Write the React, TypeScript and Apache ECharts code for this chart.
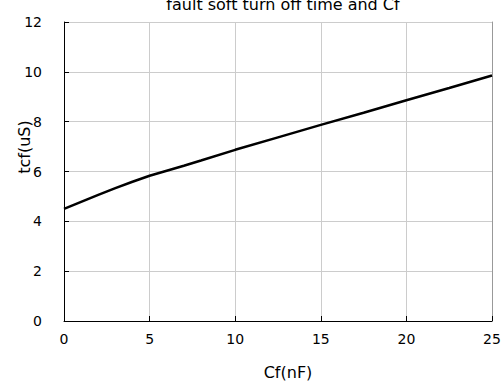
import React, { useEffect, useRef } from "react";
import * as echarts from "echarts";

const cf = [0, 1, 2, 3, 4, 5, 6, 7, 8, 10, 12.5, 15, 17.5, 20, 22.5, 25];
const tcf = [4.5, 4.78, 5.06, 5.33, 5.59, 5.83, 6.03, 6.23, 6.44, 6.87, 7.37, 7.87, 8.36, 8.86, 9.35, 9.85];
const xTicks = [0, 5, 10, 15, 20, 25];
const yTicks = [0, 2, 4, 6, 8, 10, 12];

const FONT = "DejaVu Sans";

export default function App() {
  const ref = useRef<HTMLDivElement>(null);
  useEffect(() => {
    if (!ref.current) return;
    const chart = echarts.init(ref.current, undefined, { renderer: "svg" });
    chart.setOption({
      animation: false,
      backgroundColor: "#ffffff",
      title: {
        text: "fault soft turn off time and Cf",
        left: 278,
        top: -9,
        textAlign: "center",
        textStyle: { fontFamily: FONT, fontSize: 16, fontWeight: "normal", color: "#000" },
      },
      grid: { left: 64, right: 12, top: 22, bottom: 59 },
      xAxis: {
        type: "value",
        min: xTicks[0],
        max: xTicks[xTicks.length - 1],
        interval: 5,
        name: "Cf(nF)",
        nameLocation: "middle",
        nameGap: 43,
        nameTextStyle: { fontFamily: FONT, fontSize: 16, color: "#000", padding: [0, 0, 0, 20] },
        axisLine: { lineStyle: { color: "#000", width: 1 } },
        axisTick: { inside: true, length: 5, lineStyle: { color: "#000" } },
        axisLabel: { fontFamily: FONT, fontSize: 14, color: "#000", margin: 11 },
        splitLine: { show: true, lineStyle: { color: "#cccccc", width: 1 } },
      },
      yAxis: [
        {
          type: "value",
          min: yTicks[0],
          max: yTicks[yTicks.length - 1],
          interval: 2,
          axisLine: { show: true, lineStyle: { color: "#000", width: 1 } },
          axisTick: { show: true, inside: true, length: 5, lineStyle: { color: "#000" } },
          axisLabel: { fontFamily: FONT, fontSize: 14, color: "#000", margin: 22 },
          splitLine: { show: true, lineStyle: { color: "#cccccc", width: 1 } },
        },
        {
          type: "value",
          position: "right",
          min: yTicks[0],
          max: yTicks[yTicks.length - 1],
          interval: 2,
          axisLine: { show: true, lineStyle: { color: "#999999", width: 1 } },
          axisTick: { show: false },
          axisLabel: { show: false },
          splitLine: { show: false },
        },
      ],
      graphic: [
        {
          type: "text",
          x: 24,
          y: 147,
          rotation: Math.PI / 2,
          style: {
            text: "tcf(uS)",
            fontFamily: FONT,
            fontSize: 16,
            fill: "#000",
            textAlign: "center",
            textVerticalAlign: "middle",
          },
        },
      ],
      series: [
        {
          type: "line",
          data: cf.map((x, i) => [x, tcf[i]]),
          showSymbol: false,
          smooth: false,
          lineStyle: { color: "#000", width: 2.5 },
        },
      ],
    });
    return () => chart.dispose();
  }, []);
  return (
    <div
      ref={ref}
      style={{ position: "fixed", left: 0, top: 0, width: 504, height: 385 }}
    />
  );
}
